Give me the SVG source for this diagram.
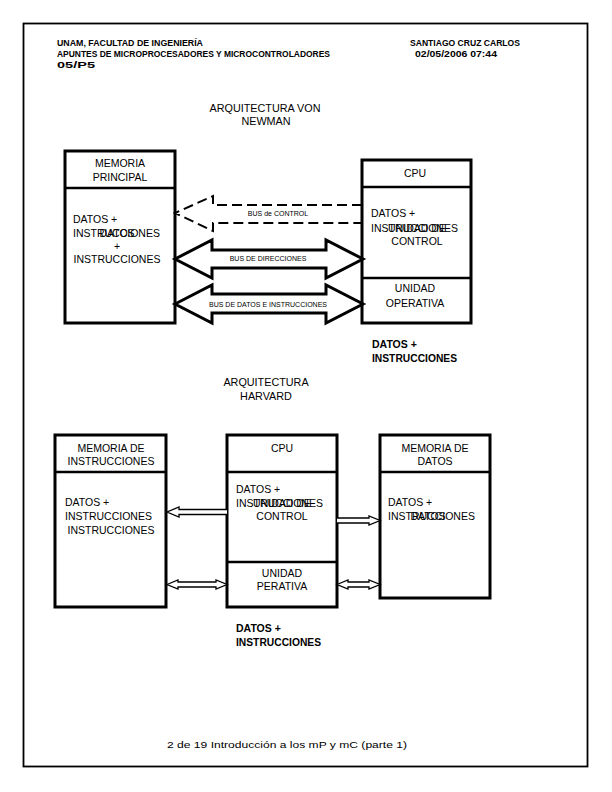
<svg xmlns="http://www.w3.org/2000/svg" width="612" height="792" viewBox="0 0 612 792">
<style>
text{font-family:"Liberation Sans",Arial,sans-serif;fill:#000}
.hdr{font-size:8.5px;font-weight:bold}
.t{font-size:10.5px}
.tb{font-size:10.5px;font-weight:bold}
.ttl{font-size:10.8px}
.sm{font-size:7px}
.c{text-anchor:middle}
.box{fill:#fff;stroke:#000;stroke-width:3}
.div{stroke:#000;stroke-width:2.5;fill:none}
.blk{fill:#fff;stroke:#000;stroke-width:3;stroke-linejoin:miter}
.thin{fill:#fff;stroke:#000;stroke-width:1.3}
.dash{fill:none;stroke:#000;stroke-width:2;stroke-dasharray:10 5}
</style>
<rect width="612" height="792" fill="#fff"/>
<rect id="page" x="23.5" y="23.5" width="564" height="743" fill="none" stroke="#000" stroke-width="1.8"/>
<g id="header">
<text class="hdr" x="57" y="45.5" textLength="146" lengthAdjust="spacingAndGlyphs">UNAM, FACULTAD DE INGENIERÍA</text>
<text class="hdr" x="57" y="56.5" textLength="273" lengthAdjust="spacingAndGlyphs">APUNTES DE MICROPROCESADORES Y MICROCONTROLADORES</text>
<text class="hdr" x="57" y="67.5" textLength="38" lengthAdjust="spacingAndGlyphs">05/P5</text>
<text class="hdr" x="410" y="45.5" textLength="110" lengthAdjust="spacingAndGlyphs">SANTIAGO CRUZ CARLOS</text>
<text class="hdr" x="415" y="56.5" textLength="82" lengthAdjust="spacingAndGlyphs">02/05/2006 07:44</text>
</g>
<g id="title-vn">
<text class="ttl c" x="265" y="112">ARQUITECTURA VON</text>
<text class="ttl c" x="266" y="125">NEWMAN</text>
</g>
<g id="vn-memoria">
<rect class="box" x="65" y="151" width="110" height="172"/>
<line class="div" x1="65" y1="188" x2="175" y2="188"/>
<text class="t c" x="120" y="167">MEMORIA</text>
<text class="t c" x="120" y="181">PRINCIPAL</text>
<text class="t" x="73" y="223">DATOS +</text>
<text class="t" x="73" y="237">INSTRUCCIONES</text>
<text class="t c" x="117" y="237">DATOS</text>
<text class="t c" x="117" y="250">+</text>
<text class="t c" x="117" y="263">INSTRUCCIONES</text>
</g>
<g id="vn-cpu">
<rect class="box" x="362" y="160" width="109" height="163"/>
<line class="div" x1="362" y1="187" x2="471" y2="187"/>
<line class="div" x1="362" y1="278" x2="471" y2="278"/>
<text class="t c" x="415" y="177">CPU</text>
<text class="t" x="371" y="217">DATOS +</text>
<text class="t" x="371" y="232">INSTRUCCIONES</text>
<text class="t c" x="417" y="232">UNIDAD DE</text>
<text class="t c" x="417" y="245">CONTROL</text>
<text class="t c" x="415" y="292">UNIDAD</text>
<text class="t c" x="415" y="307">OPERATIVA</text>
</g>
<g id="vn-connectors">
<polyline class="dash" points="362,205 213,205 213,196 175,213 213,231 213,223 362,223"/>
<text class="sm c" x="278" y="216">BUS de CONTROL</text>
<path class="blk" d="M175,259 L212,240 L212,250 L326,250 L326,240 L363,259 L326,278 L326,268 L212,268 L212,278 Z"/>
<text class="sm c" x="268" y="261">BUS DE DIRECCIONES</text>
<path class="blk" d="M175,304 L212,285 L212,294 L326,294 L326,285 L363,304 L326,323 L326,313 L212,313 L212,323 Z"/>
<text class="sm c" x="268" y="307">BUS DE DATOS E INSTRUCCIONES</text>
</g>
<g id="vn-label">
<text class="tb" x="372" y="348">DATOS +</text>
<text class="tb" x="372" y="362" textLength="85" lengthAdjust="spacingAndGlyphs">INSTRUCCIONES</text>
</g>
<g id="title-harvard">
<text class="ttl c" x="266" y="386">ARQUITECTURA</text>
<text class="ttl c" x="266" y="400">HARVARD</text>
</g>
<g id="h-mem-instr">
<rect class="box" x="55" y="435" width="111" height="172"/>
<line class="div" x1="55" y1="472" x2="166" y2="472"/>
<text class="t c" x="111" y="452">MEMORIA DE</text>
<text class="t c" x="111" y="465">INSTRUCCIONES</text>
<text class="t" x="65" y="506">DATOS +</text>
<text class="t" x="65" y="520">INSTRUCCIONES</text>
<text class="t c" x="111" y="534">INSTRUCCIONES</text>
</g>
<g id="h-cpu">
<rect class="box" x="227" y="435" width="110" height="172"/>
<line class="div" x1="227" y1="472" x2="337" y2="472"/>
<line class="div" x1="227" y1="562" x2="337" y2="562"/>
<text class="t c" x="282" y="452">CPU</text>
<text class="t" x="236" y="493">DATOS +</text>
<text class="t" x="236" y="507">INSTRUCCIONES</text>
<text class="t c" x="282" y="507">UNIDAD DE</text>
<text class="t c" x="282" y="520">CONTROL</text>
<text class="t c" x="282" y="577">UNIDAD</text>
<text class="t c" x="282" y="590">PERATIVA</text>
</g>
<g id="h-mem-datos">
<rect class="box" x="380" y="435" width="110" height="163"/>
<line class="div" x1="380" y1="472" x2="490" y2="472"/>
<text class="t c" x="435" y="452">MEMORIA DE</text>
<text class="t c" x="435" y="465">DATOS</text>
<text class="t" x="388" y="506">DATOS +</text>
<text class="t" x="388" y="520">INSTRUCCIONES</text>
<text class="t c" x="428" y="520">DATOS</text>
</g>
<g id="h-connectors">
<path class="thin" d="M227,509.5 L179,509.5 L179,507 L167,512 L179,517 L179,514.5 L227,514.5"/>
<path class="thin" d="M337,518 L369,518 L369,516 L380,520.5 L369,525 L369,523 L337,523"/>
<path class="thin" d="M167,584.5 L178,580 L178,582 L216,582 L216,580 L227,584.5 L216,589 L216,587 L178,587 L178,589 Z"/>
<path class="thin" d="M337,584.5 L348,580 L348,582 L369,582 L369,580 L380,584.5 L369,589 L369,587 L348,587 L348,589 Z"/>
</g>
<g id="h-label">
<text class="tb" x="236" y="632">DATOS +</text>
<text class="tb" x="236" y="646" textLength="85" lengthAdjust="spacingAndGlyphs">INSTRUCCIONES</text>
</g>
<g id="footer">
<text x="167" y="748" style="font-size:9px" textLength="240" lengthAdjust="spacingAndGlyphs">2 de 19 Introducción a los mP y mC (parte 1)</text>
</g>
</svg>
